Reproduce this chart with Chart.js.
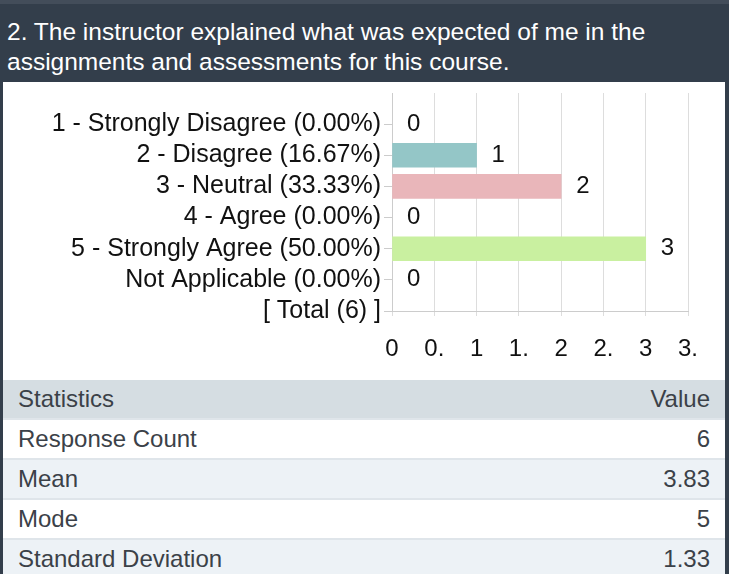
<!DOCTYPE html>
<html>
<head>
<meta charset="utf-8">
<script src="https://cdn.jsdelivr.net/npm/chart.js@4"></script>
<style>
  body { margin: 0; background: #fff; font-family: "Liberation Sans", Arial, sans-serif; }
  #page { width: 729px; }
  .title {
    background: #333e4b;
    border-top: 4px solid #434d5a;
    color: #fff;
    font-size: 24.5px;
    line-height: 30px;
    height: 82px;
    box-sizing: border-box;
    padding: 13px 8px 0 7px;
  }
  .body { border-left: 3px solid #333e4b; border-right: 4px solid #333e4b; }
  .chart-box { position: relative; height: 296px; }
  table { width: 100%; border-collapse: collapse; margin-top: 2px; font-size: 24px; color: #3b4148; }
  th, td { padding: 0 15px; text-align: left; font-weight: normal; border-bottom: 2px solid #dfe5ea; }
  th { background: #d5dde2; height: 38px; }
  td { height: 38px; }
  tr:nth-child(odd) td { background: #edf2f6; }
  .num { text-align: right; }
</style>
</head>
<body>
<div id="page">
  <div class="title">2. The instructor explained what was expected of me in the assignments and assessments for this course.</div>
  <div class="body">
    <div class="chart-box"><canvas id="surveyChart"></canvas></div>
    <table id="stats"></table>
  </div>
</div>
<script>
// first label is an empty spacer row above the answers
const categories = ['', '1 - Strongly Disagree (0.00%)', '2 - Disagree (16.67%)', '3 - Neutral (33.33%)',
  '4 - Agree (0.00%)', '5 - Strongly Agree (50.00%)', 'Not Applicable (0.00%)', '[ Total (6) ]'];
const counts = [null, 0, 1, 2, 0, 3, 0, null];
const barColors = ['#cccccc', '#cccccc', '#94c6c7', '#e9b6ba', '#cccccc', '#c9f0a0', '#cccccc', '#cccccc'];
const xTickLabels = ['0', '0.', '1', '1.', '2', '2.', '3', '3.'];

const statNames = ['Response Count', 'Mean', 'Mode', 'Standard Deviation'];
const statValues = ['6', '3.83', '5', '1.33'];

const table = document.getElementById('stats');
table.innerHTML = '<tr><th>Statistics</th><th class="num">Value</th></tr>' +
  statNames.map((name, i) => `<tr><td>${name}</td><td class="num">${statValues[i]}</td></tr>`).join('');

const FONT = '"Liberation Sans", Arial, sans-serif';

const valueLabels = {
  id: 'valueLabels',
  afterDatasetsDraw(chart) {
    const ctx = chart.ctx;
    ctx.save();
    ctx.font = '24px ' + FONT;
    ctx.fillStyle = '#111';
    ctx.textAlign = 'left';
    ctx.textBaseline = 'middle';
    chart.getDatasetMeta(0).data.forEach((bar, i) => {
      if (counts[i] === null) return;
      ctx.fillText(String(counts[i]), bar.x + 15, bar.y);
    });
    ctx.restore();
  }
};

new Chart(document.getElementById('surveyChart'), {
  type: 'bar',
  data: {
    labels: categories,
    datasets: [{
      data: counts,
      backgroundColor: barColors,
      barThickness: 24
    }]
  },
  options: {
    indexAxis: 'y',
    responsive: true,
    maintainAspectRatio: false,
    animation: false,
    layout: { padding: { top: 11, right: 37 } },
    plugins: { legend: { display: false }, tooltip: { enabled: false } },
    scales: {
      y: {
        type: 'category',
        offset: false,
        afterFit: (scale) => {
          scale.width = 389;
          scale.paddingTop = 0;
          scale.paddingBottom = 0;
        },
        grid: {
          offset: false,
          drawOnChartArea: false,
          tickLength: 8,
          color: (c) => c.index === 0 ? 'rgba(0,0,0,0)' : '#cccccc'
        },
        border: { color: '#cccccc' },
        ticks: {
          autoSkip: false,
          padding: 3,
          color: '#111',
          font: { family: FONT, size: 25 }
        }
      },
      x: {
        type: 'linear',
        min: 0,
        max: 3.5,
        afterFit: (scale) => { scale.height = 67; },
        grid: { color: '#dddddd', tickLength: 5 },
        border: { color: '#cccccc' },
        ticks: {
          stepSize: 0.5,
          padding: 19,
          color: '#111',
          font: { family: FONT, size: 24 },
          callback: (value, i) => xTickLabels[i]
        }
      }
    }
  },
  plugins: [valueLabels]
});
</script>
</body>
</html>
